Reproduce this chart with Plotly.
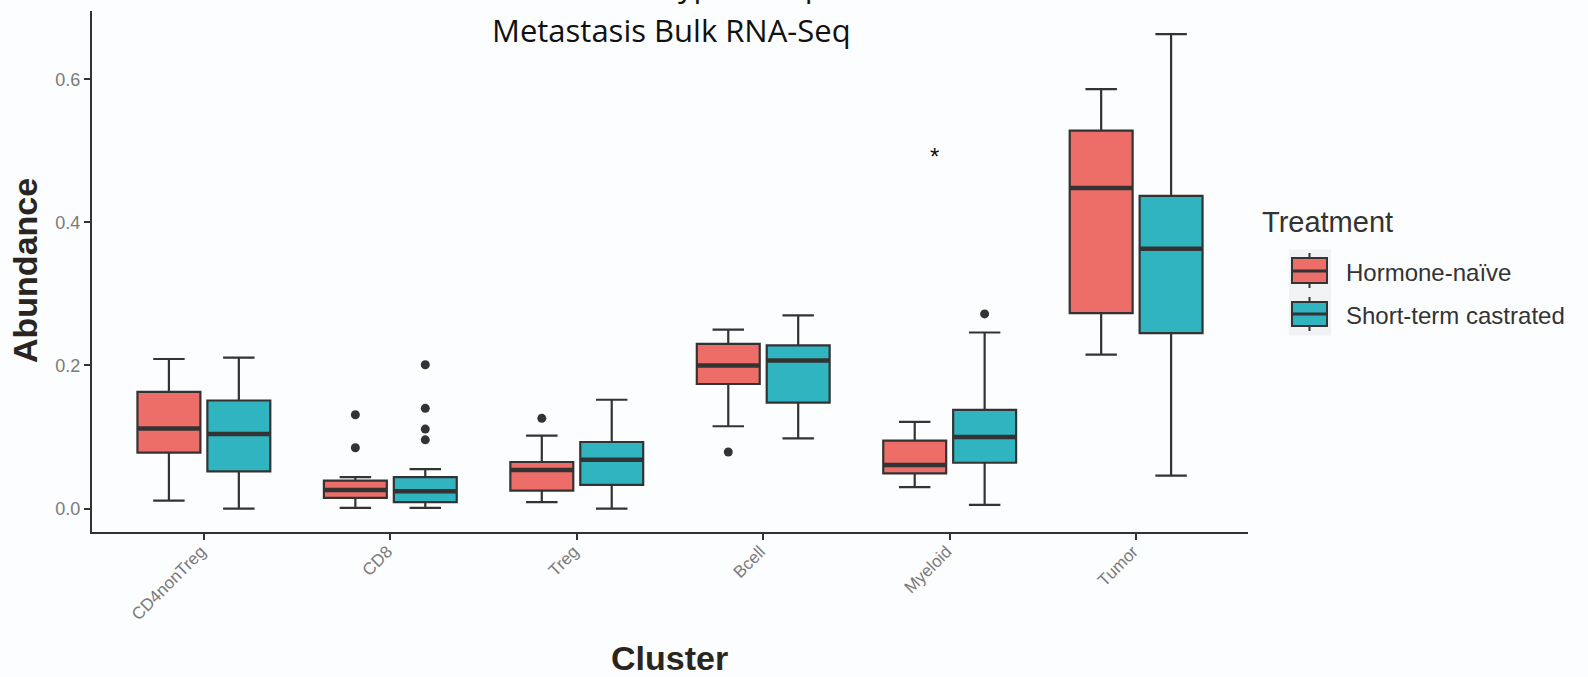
import plotly.graph_objects as go

# ---- data -------------------------------------------------------------
categories = ["CD4nonTreg", "CD8", "Treg", "Bcell", "Myeloid", "Tumor"]
groups = ["Hormone-naïve", "Short-term castrated"]

# Hormone-naïve box statistics per cluster
hn_lower = [0.011, 0.001, 0.009, 0.115, 0.030, 0.215]
hn_q1 = [0.078, 0.015, 0.025, 0.174, 0.049, 0.273]
hn_median = [0.112, 0.026, 0.054, 0.200, 0.061, 0.448]
hn_q3 = [0.163, 0.039, 0.065, 0.230, 0.095, 0.528]
hn_upper = [0.209, 0.044, 0.102, 0.250, 0.121, 0.586]
hn_outliers = [[], [0.131, 0.085], [0.126], [0.079], [], []]

# Short-term castrated box statistics per cluster
stc_lower = [0.000, 0.001, 0.000, 0.098, 0.005, 0.046]
stc_q1 = [0.052, 0.009, 0.033, 0.148, 0.064, 0.245]
stc_median = [0.104, 0.024, 0.068, 0.207, 0.100, 0.363]
stc_q3 = [0.151, 0.044, 0.093, 0.228, 0.138, 0.437]
stc_upper = [0.211, 0.055, 0.152, 0.270, 0.246, 0.663]
stc_outliers = [[], [0.201, 0.140, 0.111, 0.096], [], [], [0.272], []]

y_ticks = [0.0, 0.2, 0.4, 0.6]
y_tick_labels = ["0.0", "0.2", "0.4", "0.6"]

title_lines = ["Estimated Cell Type Composition", "Metastasis Bulk RNA-Seq"]
signif_cluster = "Myeloid"
signif_label = "*"
signif_value = 0.492

# ---- style ------------------------------------------------------------
colors = ["#ED6E68", "#30B5C0"]
edge = "#333333"
bg = "#fcfdfe"
tick_grey = "#7a7a7a"
dodge = 0.1875
box_w = 0.3375
sans = "Liberation Sans, Arial, sans-serif"

# plot area in pixels
L, R, T, B = 92, 1248, 11, 532
W, H = 1588, 677


def px_x(p):
    return (p - L) / (R - L)


def px_y(p):
    return (B - p) / (B - T)


fig = go.Figure()

series = [
    (hn_lower, hn_q1, hn_median, hn_q3, hn_upper, hn_outliers, -dodge),
    (stc_lower, stc_q1, stc_median, stc_q3, stc_upper, stc_outliers, dodge),
]

for (lo, q1, med, q3, hi, outs, off), color, name in zip(series, colors, groups):
    pos = [i + off for i in range(len(categories))]
    fig.add_trace(go.Box(
        x=pos, q1=q1, median=med, q3=q3, lowerfence=lo, upperfence=hi,
        width=box_w, fillcolor=color, line=dict(color=edge, width=2.2),
        boxpoints=False, name=name, showlegend=False, hoverinfo="skip",
    ))
    # thicker median bars
    mx, my = [], []
    for p, m in zip(pos, med):
        mx += [p - box_w / 2, p + box_w / 2, None]
        my += [m, m, None]
    fig.add_trace(go.Scatter(
        x=mx, y=my, mode="lines", line=dict(color=edge, width=4.5),
        showlegend=False, hoverinfo="skip",
    ))
    # outliers
    ox, oy = [], []
    for p, vals in zip(pos, outs):
        for v in vals:
            ox.append(p)
            oy.append(v)
    fig.add_trace(go.Scatter(
        x=ox, y=oy, mode="markers",
        marker=dict(color=edge, size=9, line=dict(width=0)),
        showlegend=False, hoverinfo="skip",
    ))

axis_common = dict(
    showline=True, linecolor=edge, linewidth=2, mirror=False,
    ticks="outside", ticklen=6, tickwidth=2, tickcolor=edge,
    showgrid=False, zeroline=False,
)

fig.update_xaxes(
    range=[-0.6, len(categories) - 0.4],
    tickmode="array", tickvals=list(range(len(categories))), ticktext=categories,
    tickangle=-45, ticklabelstandoff=-5, ticklabelshift=-3,
    tickfont=dict(family=sans, size=17, color=tick_grey),
    **axis_common,
)
fig.update_yaxes(
    range=[-0.0328, 0.6953],
    tickmode="array", tickvals=y_ticks, ticktext=y_tick_labels,
    tickfont=dict(family=sans, size=18, color=tick_grey),
    **axis_common,
)

ann = []
# title (first line runs off the top of the page)
ann.append(dict(text=title_lines[0], xref="paper", yref="paper", x=px_x(685), y=px_y(-15),
                xanchor="center", yanchor="middle", showarrow=False,
                font=dict(family="Open Sans, sans-serif", size=31, color="#111111")))
ann.append(dict(text=title_lines[1], xref="paper", yref="paper", x=px_x(671), y=px_y(30),
                xanchor="center", yanchor="middle", showarrow=False,
                font=dict(family="Open Sans, sans-serif", size=31, color="#111111")))
# axis titles
ann.append(dict(text="<b>Cluster</b>", xref="paper", yref="paper", x=px_x(669), y=px_y(658),
                xanchor="center", yanchor="middle", showarrow=False,
                font=dict(family=sans, size=34, color="#2a2520")))
ann.append(dict(text="<b>Abundance</b>", xref="paper", yref="paper", x=px_x(25), y=px_y(271),
                xanchor="center", yanchor="middle", showarrow=False, textangle=-90,
                font=dict(family=sans, size=34, color="#2a2520")))
# significance mark
ann.append(dict(text=signif_label, x=categories.index(signif_cluster) - 0.08, y=signif_value,
                xref="x", yref="y", showarrow=False, xanchor="center", yanchor="middle",
                font=dict(family=sans, size=24, color="#111111")))

# legend
ann.append(dict(text="Treatment", xref="paper", yref="paper", x=px_x(1260), y=px_y(222),
                xanchor="left", yanchor="middle", showarrow=False,
                font=dict(family=sans, size=29, color="#333333")))

shapes = []
key_rows = [(271, 258, 283, 253, 288), (314, 302, 326, 297, 331)]
for (cy, top, bot, wt, wb), color, name in zip(key_rows, colors, groups):
    shapes.append(dict(type="rect", xref="paper", yref="paper",
                       x0=px_x(1289), x1=px_x(1331), y0=px_y(cy - 21.5), y1=px_y(cy + 21.5),
                       fillcolor="#f1f2f3", line=dict(width=0), layer="below"))
    shapes.append(dict(type="line", xref="paper", yref="paper",
                       x0=px_x(1309.5), x1=px_x(1309.5), y0=px_y(wt), y1=px_y(wb),
                       line=dict(color=edge, width=2)))
    shapes.append(dict(type="rect", xref="paper", yref="paper",
                       x0=px_x(1292), x1=px_x(1327), y0=px_y(top), y1=px_y(bot),
                       fillcolor=color, line=dict(color=edge, width=2)))
    shapes.append(dict(type="line", xref="paper", yref="paper",
                       x0=px_x(1292), x1=px_x(1327), y0=px_y(cy), y1=px_y(cy),
                       line=dict(color=edge, width=3)))
    ann.append(dict(text=name, xref="paper", yref="paper", x=px_x(1344), y=px_y(cy + 1),
                    xanchor="left", yanchor="middle", showarrow=False,
                    font=dict(family=sans, size=24, color="#333333")))

fig.update_layout(
    width=W, height=H,
    margin=dict(l=L, r=W - R, t=T, b=H - B),
    paper_bgcolor=bg, plot_bgcolor=bg,
    boxmode="overlay", showlegend=False,
    annotations=ann, shapes=shapes,
)

fig.write_html("out.html")
